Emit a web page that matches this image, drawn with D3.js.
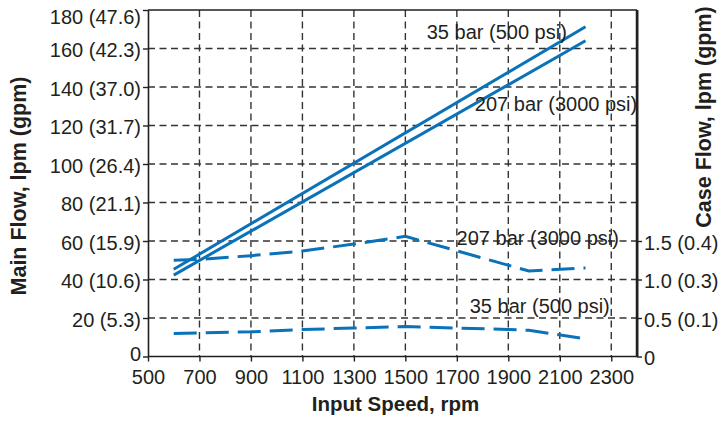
<!DOCTYPE html>
<html><head><meta charset="utf-8">
<script src="https://cdn.jsdelivr.net/npm/d3@7"></script>
<style>
html,body{margin:0;padding:0;background:#fff;}
svg{display:block;font-family:"Liberation Sans",Arial,Helvetica,sans-serif;}
</style></head>
<body><svg id="c" width="721" height="421"></svg>
<script>
// ---- data ----
const xTicks = [500,700,900,1100,1300,1500,1700,1900,2100,2300];
const leftTicks = [0,20,40,60,80,100,120,140,160,180];
const leftLabels = ["0","20 (5.3)","40 (10.6)","60 (15.9)","80 (21.1)","100 (26.4)","120 (31.7)","140 (37.0)","160 (42.3)","180 (47.6)"];
const rightTicks = [0,0.5,1.0,1.5];
const rightLabels = ["0","0.5 (0.1)","1.0 (0.3)","1.5 (0.4)"];

// main flow (lpm) vs input speed (rpm)
const main35 = [[600,45.3],[2200,171.3]];
const main207 = [[600,42.3],[2200,164.0]];
// case flow (lpm) vs input speed (rpm)
const case207 = [[600,1.25],[700,1.26],[900,1.31],[1100,1.37],[1300,1.46],[1500,1.56],[1980,1.11],[2200,1.15]];
const case35 = [[600,0.30],[900,0.32],[1100,0.35],[1300,0.37],[1500,0.39],[1700,0.37],[1900,0.35],[1980,0.34],[2180,0.24]];

const seriesNames = ["35 bar (500 psi)","207 bar (3000 psi)","207 bar (3000 psi)","35 bar (500 psi)"];

// ---- layout ----
const svg = d3.select("#c");
const L=148, R=637, T=10, B=356.5;
const blue="#0a72b9", ink="#231f20";
const x = d3.scaleLinear().domain([500,2400]).range([L,R]);
const y = d3.scaleLinear().domain([0,180]).range([B,T]);
const y2 = d3.scaleLinear().domain([0,4.5]).range([B,T]);

// grid
const g = svg.append("g");
g.selectAll(".vg").data(xTicks.filter(d=>d>500)).join("line")
  .attr("x1",d=>x(d)).attr("x2",d=>x(d)).attr("y1",T).attr("y2",B)
  .attr("stroke","#333").attr("stroke-width",1.4).attr("stroke-dasharray","7,4.5");
g.selectAll(".hg").data(leftTicks.filter(d=>d>0&&d<180)).join("line")
  .attr("x1",L).attr("x2",R).attr("y1",d=>y(d)).attr("y2",d=>y(d))
  .attr("stroke","#333").attr("stroke-width",1.4).attr("stroke-dasharray","7,4.5");

// frame
svg.append("line").attr("x1",L).attr("x2",R).attr("y1",T).attr("y2",T).attr("stroke",ink).attr("stroke-width",1.5);
svg.append("line").attr("x1",R).attr("x2",R).attr("y1",T).attr("y2",B).attr("stroke",ink).attr("stroke-width",2.5);

// axes
const fs = "20px";
const ax = svg.append("g").attr("transform",`translate(0,${B})`)
  .call(d3.axisBottom(x).tickValues(xTicks).tickFormat(d3.format("d")).tickSize(5).tickSizeOuter(0).tickPadding(6));
const ay = svg.append("g").attr("transform",`translate(${L},0)`)
  .call(d3.axisLeft(y).tickValues(leftTicks).tickFormat((d,i)=>leftLabels[i]).tickSize(5).tickSizeOuter(0).tickPadding(2));
const ay2 = svg.append("g").attr("transform",`translate(${R},0)`)
  .call(d3.axisRight(y2).tickValues(rightTicks).tickFormat((d,i)=>rightLabels[i]).tickSize(5).tickSizeOuter(0).tickPadding(2));
[ax,ay,ay2].forEach(a=>{
  a.select(".domain").attr("stroke",ink).attr("stroke-width",1.6);
  a.selectAll(".tick line").attr("stroke",ink).attr("stroke-width",1.4);
  a.selectAll(".tick text").attr("fill",ink).style("font-size",fs).style("font-family","'Liberation Sans',Arial,sans-serif");
});
ax.select(".domain").remove();
svg.append("line").attr("x1",L).attr("x2",R).attr("y1",B).attr("y2",B).attr("stroke",ink).attr("stroke-width",1.6);
ay.selectAll(".tick text").attr("dy",(d)=> d===180 ? "0.68em" : d===0 ? "0.2em" : "0.42em");
ay2.selectAll(".tick text").attr("dy","0.42em");
ax.selectAll(".tick text").attr("dy","0.8em");

// lines
const line = (ys)=>d3.line().x(d=>x(d[0])).y(d=>ys(d[1]));
svg.append("path").datum(main35).attr("d",line(y)).attr("fill","none").attr("stroke",blue).attr("stroke-width",3);
svg.append("path").datum(main207).attr("d",line(y)).attr("fill","none").attr("stroke",blue).attr("stroke-width",3);
svg.append("path").datum(case207).attr("d",line(y2)).attr("fill","none").attr("stroke",blue).attr("stroke-width",3).attr("stroke-dasharray","23,9");
svg.append("path").datum(case35).attr("d",line(y2)).attr("fill","none").attr("stroke",blue).attr("stroke-width",3).attr("stroke-dasharray","23,9");

// series labels (annotation anchors in data units)
const ann = [
  {t:seriesNames[0], rpm:1583, v:165, s:y},
  {t:seriesNames[1], rpm:1770, v:127.5, s:y},
  {t:seriesNames[2], rpm:1699, v:1.448, s:y2},
  {t:seriesNames[3], rpm:1750, v:0.565, s:y2}
];
svg.selectAll(".ann").data(ann).join("text")
  .attr("x",d=>x(d.rpm)).attr("y",d=>d.s(d.v))
  .attr("fill",ink).style("font-size","20px").text(d=>d.t);

// titles
svg.append("text").attr("x",(L+R)/2+3).attr("y",411).attr("text-anchor","middle")
  .attr("fill",ink).style("font-size","20.5px").style("font-weight","bold").text("Input Speed, rpm");
svg.append("text").attr("transform","translate(25.5,186) rotate(-90)").attr("text-anchor","middle")
  .attr("fill",ink).style("font-size","21.5px").style("font-weight","bold").text("Main Flow, lpm (gpm)");
svg.append("text").attr("transform","translate(711,117) rotate(-90)").attr("text-anchor","middle")
  .attr("fill",ink).style("font-size","21.5px").style("font-weight","bold").text("Case Flow, lpm (gpm)");
</script></body></html>
